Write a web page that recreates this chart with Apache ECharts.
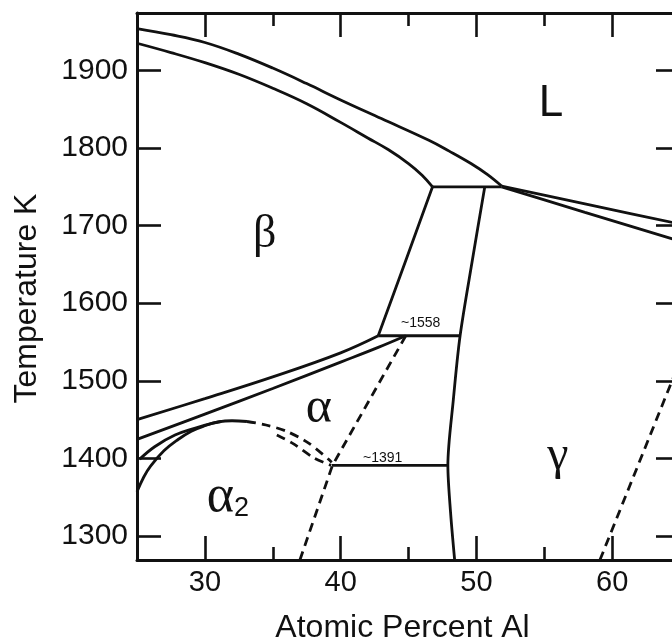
<!DOCTYPE html>
<html><head><meta charset="utf-8">
<script src="https://cdn.jsdelivr.net/npm/echarts@6/dist/echarts.min.js"></script>
<style>html,body{margin:0;padding:0;background:#fff}#c{width:672px;height:639px}</style>
</head><body><div id="c"></div>
<script>
// ---- data (x = atomic percent Al, y = temperature K) ----
const xTicksMajor = [30, 40, 50, 60];
const xTicksMinor = [35, 45, 55];
const yTicks = [1300, 1400, 1500, 1600, 1700, 1800, 1900];

const liquidusLeft   = [[25,1954],[27.5,1946],[30,1936],[32.5,1921],[35,1903],[37.5,1883],[40,1862],[43,1838],[46.5,1810],[48,1796],[49.6,1780],[50.8,1766],[51.86,1751]];
const betaSolidus    = [[25,1935],[27.5,1923],[30,1910],[32.5,1895],[35,1877],[37.5,1857],[40,1833],[42,1813],[43.5,1798],[45,1780],[46,1765],[46.77,1750]];
const peritecticLine = [[46.77,1750],[51.86,1750]];
const liquidusRight  = [[51.86,1751],[58,1728],[65,1702]];
const gammaSolidus   = [[51.86,1750],[58,1717],[65,1680]];
const betaAlphaRight = [[46.77,1750],[44.8,1655],[42.77,1558]];
const alphaGammaLine = [[50.62,1750],[49.7,1655],[48.8,1558],[48.3,1475],[47.9,1391],[48.1,1330],[48.4,1269]];
const line1558       = [[42.77,1558],[48.8,1558]];
const line1391       = [[39.35,1391],[47.9,1391]];
const betaTransus    = [[25,1450],[30,1477],[35,1505],[40,1536],[42.77,1558]];
const alphaBetaLower = [[25,1424.5],[30,1457],[35,1490],[40,1524],[42.77,1543],[44.8,1558]];
const alpha2Outer    = [[25,1357],[25.5,1376],[26,1390],[27,1410],[28,1424],[29,1435],[30,1442],[31,1447],[32,1448.5],[33.1,1447.5]];
const alpha2Inner    = [[25.2,1399],[26.3,1415],[27.8,1430],[29.3,1439],[30.5,1445],[31.2,1447.5]];
const alpha2DashA    = [[33.1,1447.5],[34.5,1443],[36,1435],[37.7,1419],[39.35,1395]];
const alpha2DashB    = [[35.3,1430],[36.5,1419],[38,1401],[39.3,1391]];
const alphaTransus   = [[44.8,1558],[39.4,1391],[37.0,1269]];
const gammaDashed    = [[59.1,1269],[64.3,1495],[65,1525]];

const regionText = ['L', 'β', 'α', 'γ', '~1558', '~1391'];
const regionPos  = [[55.5,1857],[34.4,1688],[38.4,1464],[56.0,1403],[45.9,1574],[43.1,1400]];
const alpha2Pos  = [31.7,1350];

const INK = '#111';
const solid = (d, smooth) => ({type:'line', data:d, showSymbol:false, smooth:smooth||0, silent:true,
  lineStyle:{color:INK, width:2.8}, z:3});
const dashed = (d) => ({type:'line', data:d, showSymbol:false, smooth:0.3, silent:true,
  lineStyle:{color:INK, width:2.8, type:[9,6]}, z:3});

const noBorder = {textBorderWidth:0, textShadowBlur:0, opacity:1};
const sansStyle = {fontFamily:'Liberation Sans, Arial, sans-serif', color:INK};
const serifStyle = {fontFamily:'Liberation Serif, DejaVu Serif, serif', color:INK};
const labelStyles = [
  Object.assign({fontSize:44}, sansStyle, noBorder),
  Object.assign({fontSize:46}, serifStyle, noBorder),
  Object.assign({fontSize:50}, serifStyle, noBorder),
  Object.assign({fontSize:48}, serifStyle, noBorder),
  Object.assign({fontSize:14}, sansStyle, noBorder),
  Object.assign({fontSize:14}, sansStyle, noBorder)
];

const labelData = regionText.map((t, i) => ({
  value: regionPos[i],
  label: Object.assign({show:true, position:'inside', formatter:t}, labelStyles[i])
}));
labelData.push({
  value: alpha2Pos,
  label: Object.assign({show:true, position:'inside', formatter:'{a|α}{s|2}',
    rich:{a:Object.assign({fontSize:52}, serifStyle, noBorder), s:Object.assign({fontSize:27, padding:[22,0,0,0]}, sansStyle, noBorder)}}, noBorder)
});

const axisLineS = {show:true, lineStyle:{color:INK, width:3}};
const tickS = (vals, len) => ({show:true, inside:true, length:len, customValues:vals, lineStyle:{color:INK, width:2.6}});

const option = {
  backgroundColor:'#ffffff',
  animation:false,
  grid:{left:137, top:13, right:-8, bottom:79, outerBoundsMode:'none', containLabel:false},
  xAxis:[
    {type:'value', min:25, max:65, position:'bottom', axisLine:axisLineS, splitLine:{show:false},
     axisTick:tickS(xTicksMajor,24),
     axisLabel:Object.assign({show:true, customValues:xTicksMajor, fontSize:29, margin:8, formatter:v=>String(v)}, sansStyle),
     name:'Atomic Percent Al', nameLocation:'middle', nameGap:52,
     nameTextStyle:Object.assign({fontSize:32, padding:[0,12,0,0]}, sansStyle)},
    {type:'value', min:25, max:65, position:'bottom', axisLine:{show:false}, splitLine:{show:false},
     axisTick:tickS(xTicksMinor,13), axisLabel:{show:false}},
    {type:'value', min:25, max:65, position:'top', axisLine:axisLineS, splitLine:{show:false},
     axisTick:tickS(xTicksMajor,24), axisLabel:{show:false}},
    {type:'value', min:25, max:65, position:'top', axisLine:{show:false}, splitLine:{show:false},
     axisTick:tickS(xTicksMinor,13), axisLabel:{show:false}}
  ],
  yAxis:[
    {type:'value', min:1269, max:1974, position:'left', axisLine:axisLineS, splitLine:{show:false},
     axisTick:tickS(yTicks,24),
     axisLabel:Object.assign({show:true, customValues:yTicks, fontSize:30, margin:9, formatter:v=>String(v)}, sansStyle),
     name:'Temperature K', nameLocation:'middle', nameGap:94,
     nameTextStyle:Object.assign({fontSize:32, padding:[0,24,0,0]}, sansStyle)},
    {type:'value', min:1269, max:1974, position:'right', axisLine:axisLineS, splitLine:{show:false},
     axisTick:tickS(yTicks,24), axisLabel:{show:false}}
  ],
  series:[
    solid(liquidusLeft, 0.4), solid(betaSolidus, 0.4), solid(peritecticLine),
    solid(liquidusRight, 0.2), solid(gammaSolidus, 0.2), solid(betaAlphaRight, 0.2),
    solid(alphaGammaLine, 0.3), solid(line1558), solid(line1391),
    solid(betaTransus, 0.4), solid(alphaBetaLower, 0.4),
    solid(alpha2Outer, 0.4), solid(alpha2Inner, 0.4),
    dashed(alpha2DashA), dashed(alpha2DashB),
    Object.assign(dashed(alphaTransus), {smooth:0}), Object.assign(dashed(gammaDashed), {smooth:0}),
    {type:'scatter', data:labelData, symbolSize:0, silent:true, z:5, itemStyle:{color:INK, opacity:1}}
  ]
};
const chart = echarts.init(document.getElementById('c'), null, {renderer:'canvas'});
chart.setOption(option);
</script></body></html>
